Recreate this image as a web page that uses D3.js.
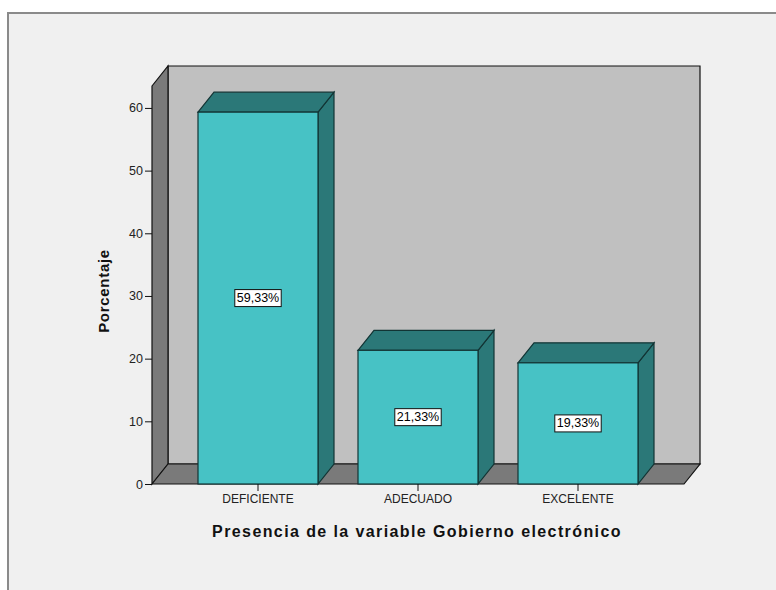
<!DOCTYPE html>
<html>
<head>
<meta charset="utf-8">
<script src="https://cdn.jsdelivr.net/npm/d3@7"></script>
<style>
  html, body { margin: 0; padding: 0; background: #fff; }
  svg { display: block; font-family: "Liberation Sans", Arial, sans-serif; }
</style>
</head>
<body>
<div id="chart"></div>
<script>
// Bar chart with 3D look: Presencia de la variable Gobierno electrónico

const categories = ['DEFICIENTE', 'ADECUADO', 'EXCELENTE'];
const percentages = [59.33, 21.33, 19.33];
const valueLabels = ['59,33%', '21,33%', '19,33%'];
const yTicks = [0, 10, 20, 30, 40, 50, 60];

const W = 776, H = 590;
const depthX = 16, depthY = -20; // 3D offset of the back plane

const svg = d3.select('#chart').append('svg')
    .attr('width', W)
    .attr('height', H);

// outer frame
svg.append('rect')
    .attr('x', 8).attr('y', 13)
    .attr('width', W).attr('height', H)
    .attr('fill', '#f0f0f0')
    .attr('stroke', '#8a8a8a')
    .attr('stroke-width', 2);

const y = d3.scaleLinear().domain([0, 63.5]).range([484, 86]);
const x = d3.scaleBand()
    .domain(categories)
    .range([178, 658])
    .paddingInner(0.25)
    .paddingOuter(0.125);

const x0 = 152, x1 = 684; // front edges of the floor
const y0 = y(0), yTop = y(63.5);

const pts = a => a.map(p => p.join(',')).join(' ');

// back wall
svg.append('polygon')
    .attr('points', pts([[x0 + depthX, yTop + depthY], [x1 + depthX, yTop + depthY],
        [x1 + depthX, y0 + depthY], [x0 + depthX, y0 + depthY]]))
    .attr('fill', '#c0c0c0')
    .attr('stroke', '#111')
    .attr('stroke-width', 1.2);

// left wall
svg.append('polygon')
    .attr('points', pts([[x0, yTop], [x0 + depthX, yTop + depthY],
        [x0 + depthX, y0 + depthY], [x0, y0]]))
    .attr('fill', '#7a7a7a')
    .attr('stroke', '#111')
    .attr('stroke-width', 1.2);

// floor
svg.append('polygon')
    .attr('points', pts([[x0, y0], [x0 + depthX, y0 + depthY],
        [x1 + depthX, y0 + depthY], [x1, y0]]))
    .attr('fill', '#7a7a7a')
    .attr('stroke', '#111')
    .attr('stroke-width', 1.2);

// bars
const bars = svg.append('g').selectAll('g')
    .data(categories.map((c, i) => ({ cat: c, value: percentages[i], label: valueLabels[i] })))
    .join('g');

bars.append('polygon') // side
    .attr('points', d => {
        const r = x(d.cat) + x.bandwidth();
        return pts([[r, y(d.value)], [r + depthX, y(d.value) + depthY],
            [r + depthX, y0 + depthY], [r, y0]]);
    })
    .attr('fill', '#2b7878')
    .attr('stroke', '#123434')
    .attr('stroke-width', 1.2);

bars.append('polygon') // top
    .attr('points', d => {
        const l = x(d.cat), r = l + x.bandwidth(), t = y(d.value);
        return pts([[l, t], [l + depthX, t + depthY], [r + depthX, t + depthY], [r, t]]);
    })
    .attr('fill', '#2b7878')
    .attr('stroke', '#123434')
    .attr('stroke-width', 1.2);

bars.append('rect') // front
    .attr('x', d => x(d.cat))
    .attr('y', d => y(d.value))
    .attr('width', x.bandwidth())
    .attr('height', d => y0 - y(d.value))
    .attr('fill', '#47c2c5')
    .attr('stroke', '#123434')
    .attr('stroke-width', 1.2);

// value labels
bars.each(function(d) {
    const g = d3.select(this);
    const cx = x(d.cat) + x.bandwidth() / 2;
    const cy = y(d.value / 2);
    const t = g.append('text')
        .attr('x', cx).attr('y', cy)
        .attr('text-anchor', 'middle')
        .attr('dominant-baseline', 'central')
        .attr('font-size', '12.5px')
        .attr('fill', '#000')
        .text(d.label);
    const bb = t.node().getBBox();
    g.insert('rect', 'text')
        .attr('x', bb.x - 2).attr('y', cy - 8.5)
        .attr('width', bb.width + 4).attr('height', 17)
        .attr('fill', '#fff')
        .attr('stroke', '#111')
        .attr('stroke-width', 1);
});

// y axis
const yAxis = svg.append('g')
    .attr('transform', `translate(${x0},0)`)
    .call(d3.axisLeft(y).tickValues(yTicks).tickSize(7).tickPadding(2));
yAxis.select('.domain').remove();
yAxis.selectAll('line').attr('stroke', '#111');
yAxis.selectAll('text')
    .attr('font-size', '12.5px')
    .attr('fill', '#222')
    .attr('font-family', '"Liberation Sans", Arial, sans-serif');

// x axis
const xAxis = svg.append('g')
    .attr('transform', `translate(0,${y0})`)
    .call(d3.axisBottom(x).tickSize(7).tickPadding(3));
xAxis.select('.domain').remove();
xAxis.selectAll('line').attr('stroke', '#111');
xAxis.selectAll('text')
    .attr('font-size', '12px')
    .attr('fill', '#222')
    .attr('font-family', '"Liberation Sans", Arial, sans-serif');

// axis titles
svg.append('text')
    .attr('transform', 'translate(109,291) rotate(-90)')
    .attr('text-anchor', 'middle')
    .attr('font-size', '15px')
    .attr('font-weight', 'bold')
    .attr('letter-spacing', '0.7px')
    .attr('fill', '#111')
    .text('Porcentaje');

svg.append('text')
    .attr('x', 417).attr('y', 537)
    .attr('text-anchor', 'middle')
    .attr('font-size', '16px')
    .attr('font-weight', 'bold')
    .attr('letter-spacing', '1.4px')
    .attr('fill', '#111')
    .text('Presencia de la variable Gobierno electrónico');
</script>
</body>
</html>
